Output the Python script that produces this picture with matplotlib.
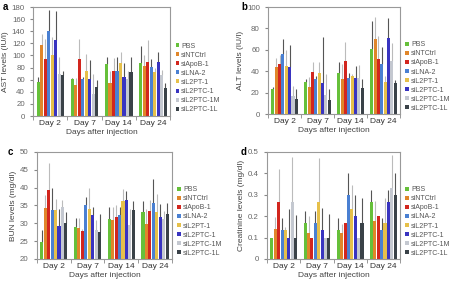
import numpy as np
import matplotlib
matplotlib.use("Agg")
import matplotlib.pyplot as plt

plt.rcParams['font.family'] = ['Liberation Sans', 'DejaVu Sans']

days = ["Day 2", "Day 7", "Day 14", "Day 24"]
groups = ["PBS", "siNTCtrl", "siApoB-1", "siLNA-2", "siL2PT-1", "siL2PTC-1", "siL2PTC-1M", "siL2PTC-1L"]
colors = ["#66c03a", "#e0862a", "#d2261e", "#4a80d2", "#e6c04a", "#3934c0", "#c4c8d0", "#3a4248"]
err_colors = ["#555555", "#bbbbbb", "#bbbbbb", "#555555", "#bbbbbb", "#555555", "#bbbbbb", "#555555"]

# rows = groups, columns = days ; mean values and top of error bar
ast_mean = [[57, 61, 86, 88], [117, 51, 55, 82], [95, 95, 75, 90], [140, 62, 75, 81],
            [100, 75, 88, 72], [126, 62, 64, 90], [69, 36, 61, 68], [67, 48, 73, 47]]
ast_top = [[65, 63, 97, 116], [135, 63, 75, 100], [127, 127, 96, 126], [175, 65, 97, 95],
           [130, 103, 105, 80], [173, 93, 88, 106], [98, 70, 75, 76], [75, 60, 98, 55]]

alt_mean = [[23, 30, 38, 61], [44, 25, 33, 70], [47, 39, 50, 51], [56, 33, 34, 47],
            [45, 38, 36, 30], [44, 29, 34, 71], [17, 18, 34, 50], [14, 13, 24, 29]]
alt_top = [[25, 33, 49, 87], [52, 35, 47, 91], [55, 49, 67, 73], [70, 36, 38, 63],
           [60, 49, 37, 36], [65, 72, 45, 90], [26, 37, 46, 66], [23, 23, 33, 32]]

bun_mean = [[24.8, 29.0, 31.2, 33.3], [34.2, 28.8, 30.9, 29.8], [39.3, 27.7, 31.8, 33.4],
            [33.8, 35.0, 32.3, 35.8], [33.8, 34.0, 36.2, 33.3], [29.2, 32.4, 36.6, 31.8],
            [34.6, 28.2, 29.5, 31.2], [30.2, 27.6, 33.6, 32.5]]
bun_top = [[28.0, 31.5, 34.5, 36.3], [38.0, 31.5, 34.5, 34.0], [47.0, 28.5, 35.0, 36.5],
           [39.8, 37.3, 34.5, 42.5], [36.7, 40.0, 39.6, 38.2], [34.0, 34.5, 39.0, 35.5],
           [36.5, 31.0, 34.0, 33.5], [33.3, 32.5, 36.3, 35.8]]

cre_mean = [[0.100, 0.167, 0.133, 0.267], [0.140, 0.120, 0.120, 0.177], [0.267, 0.100, 0.167, 0.200],
            [0.133, 0.167, 0.300, 0.133], [0.133, 0.267, 0.233, 0.167], [0.100, 0.133, 0.200, 0.267],
            [0.267, 0.100, 0.100, 0.333], [0.100, 0.100, 0.167, 0.300]]
cre_top = [[0.100, 0.223, 0.190, 0.323], [0.195, 0.200, 0.163, 0.270], [0.420, 0.100, 0.167, 0.200],
           [0.190, 0.223, 0.400, 0.190], [0.150, 0.473, 0.347, 0.283], [0.233, 0.240, 0.300, 0.320],
           [0.477, 0.100, 0.100, 0.487], [0.207, 0.210, 0.283, 0.400]]

panels = [
    ("a", "AST levels (IU/l)", ast_mean, ast_top, (0, 180), np.arange(0, 181, 20), "{:.0f}"),
    ("b", "ALT levels (IU/l)", alt_mean, alt_top, (0, 100), np.arange(0, 101, 20), "{:.0f}"),
    ("c", "BUN levels (mg/dl)", bun_mean, bun_top, (20, 50), np.arange(20, 51, 5), "{:.0f}"),
    ("d", "Creatinine levels (mg/dl)", cre_mean, cre_top, (0, 0.5), np.arange(0, 0.51, 0.1), "{:g}"),
]
boxes = [
    [0.073, 0.59, 0.300, 0.385],
    [0.588, 0.597, 0.289, 0.378],
    [0.081, 0.085, 0.296, 0.378],
    [0.586, 0.085, 0.291, 0.378],
]

fs = 6.0
fig = plt.figure(figsize=(4.56, 2.83), dpi=100)
for (letter, ylab, mean, top, ylim, yt, fmt), box in zip(panels, boxes):
    ax = fig.add_axes(box)
    mean = np.array(mean, dtype=float)
    top = np.array(top, dtype=float)
    n = len(groups)
    w = 0.102
    x = np.arange(len(days))
    for i in range(n):
        xi = x - (n - 1) / 2 * w + i * w
        ax.bar(xi, mean[i] - ylim[0], w * 0.9, bottom=ylim[0], color=colors[i],
               label=groups[i], zorder=2)
        ax.errorbar(xi, mean[i], yerr=[np.zeros(len(days)), top[i] - mean[i]],
                    fmt="none", ecolor=err_colors[i], elinewidth=0.8, capsize=0, zorder=1)
    ax.set_xlim(-0.5, len(days) - 0.5)
    ax.set_ylim(*ylim)
    ax.set_yticks(yt)
    ax.set_yticklabels([fmt.format(v) for v in yt])
    ax.set_xticks(x)
    ax.set_xticklabels(days)
    ax.set_xticks(np.arange(-0.5, len(days), 1.0), minor=True)
    ax.tick_params(axis="x", which="major", length=0, labelsize=fs, colors="#333333", pad=3)
    ax.tick_params(axis="x", which="minor", length=3, color="#888888")
    ax.tick_params(axis="y", labelsize=fs - 0.3, colors="#666666", length=2.5, color="#888888")
    for s in ax.spines.values():
        s.set_color("#999999")
        s.set_linewidth(0.8)
    ax.set_ylabel(ylab, fontsize=fs, color="#444444", labelpad=2)
    ax.set_xlabel("Days after injection", fontsize=fs, color="#444444", labelpad=1)
    ax.text(-0.22 if letter in "ac" else -0.2, 1.0, letter, transform=ax.transAxes,
            fontsize=7, fontweight="bold", va="center", ha="left")
    ax.legend(loc="center left", bbox_to_anchor=(1.0, 0.35), frameon=False,
              fontsize=5.0, handlelength=0.5, handleheight=0.5, handletextpad=0.3,
              labelspacing=0.3, labelcolor="#555555", borderaxespad=0.4)

fig.savefig("out.png", dpi=100)
